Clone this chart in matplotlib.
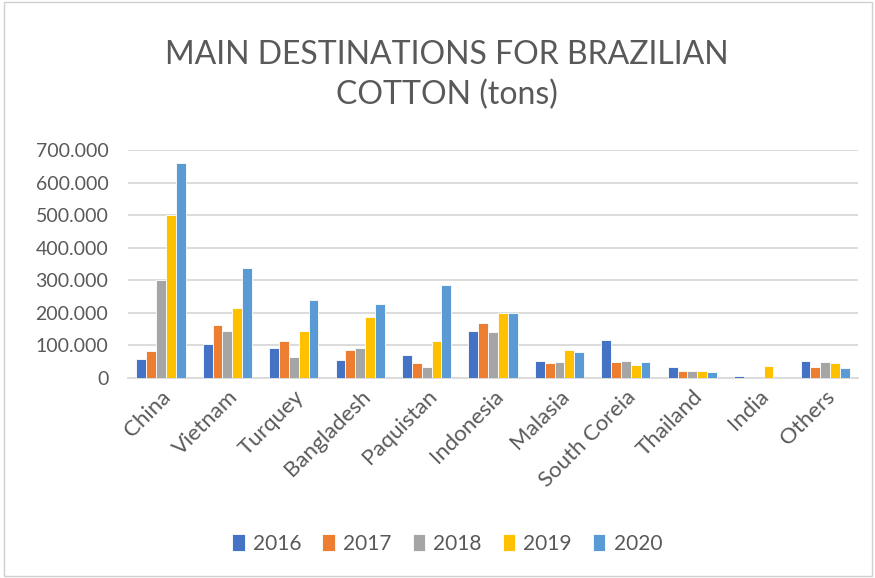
import numpy as np
import matplotlib
matplotlib.use("Agg")
import matplotlib.pyplot as plt
from matplotlib.ticker import FuncFormatter, MultipleLocator
from matplotlib.patches import Rectangle

countries = ["China", "Vietnam", "Turquey", "Bangladesh", "Paquistan", "Indonesia",
             "Malasia", "South Coreia", "Thailand", "India", "Others"]
years = ["2016", "2017", "2018", "2019", "2020"]

v2016 = [58000, 105000, 93000, 54000, 70000, 144000, 53000, 117000, 34000, 7000, 53000]
v2017 = [82000, 164000, 114000, 86000, 46000, 168000, 45000, 50000, 23000, 0, 34000]
v2018 = [301000, 143000, 66000, 93000, 34000, 140000, 50000, 53000, 23000, 0, 50000]
v2019 = [501000, 215000, 144000, 188000, 113000, 200000, 85000, 41000, 23000, 37000, 46000]
v2020 = [660000, 337000, 239000, 227000, 286000, 200000, 81000, 49000, 18000, 0, 30000]

series = [v2016, v2017, v2018, v2019, v2020]
colors = ["#4472C4", "#ED7D31", "#A5A5A5", "#FFC000", "#5B9BD5"]
text_color = "#595959"

plt.rcParams['font.family'] = ['Lato', 'DejaVu Sans']

fig = plt.figure(figsize=(8.75, 5.78), dpi=100)
ax = fig.add_axes([0.146, 0.346, 0.835, 0.394])

x = np.arange(len(countries))
w = 0.148
for i, (vals, c) in enumerate(zip(series, colors)):
    ax.bar(x + (i - 2) * w, vals, width=w, color=c, edgecolor="white",
           linewidth=0.6, label=years[i], zorder=3)

ax.set_xlim(-0.5, len(countries) - 0.5)
ax.set_ylim(0, 700000)
ax.yaxis.set_major_locator(MultipleLocator(100000))
ax.yaxis.set_major_formatter(FuncFormatter(lambda v, p: f"{int(v):,}".replace(",", ".")))
ax.grid(axis="y", color="#D9D9D9", linewidth=1.3, zorder=0)
for s in ["top", "right", "left"]:
    ax.spines[s].set_visible(False)
ax.spines["bottom"].set_color("#D9D9D9")
ax.spines["bottom"].set_linewidth(1.3)
ax.tick_params(axis="both", length=0, colors=text_color)
ax.tick_params(axis="y", pad=14, labelsize=14)
ax.tick_params(axis="x", pad=6, labelsize=16)
ax.set_xticks(x)
ax.set_xticklabels(countries, rotation=45, ha="right", rotation_mode="anchor")

fig.text(0.511, 0.87, "MAIN DESTINATIONS FOR BRAZILIAN\nCOTTON (tons)", ha="center",
         va="center", fontsize=23, color=text_color, linespacing=1.4)

ax.legend(loc="center", bbox_to_anchor=(0.511, 0.059), bbox_transform=fig.transFigure,
          ncol=5, frameon=False, fontsize=15, handlelength=0.6, handleheight=0.9,
          handletextpad=0.4, columnspacing=1.0, labelcolor=text_color)

fig.patches.append(Rectangle((0.004, 0.004), 0.992, 0.992, transform=fig.transFigure,
                             fill=False, edgecolor="#D0D0D0", linewidth=1))

fig.savefig("out.png", dpi=100, facecolor="white")
